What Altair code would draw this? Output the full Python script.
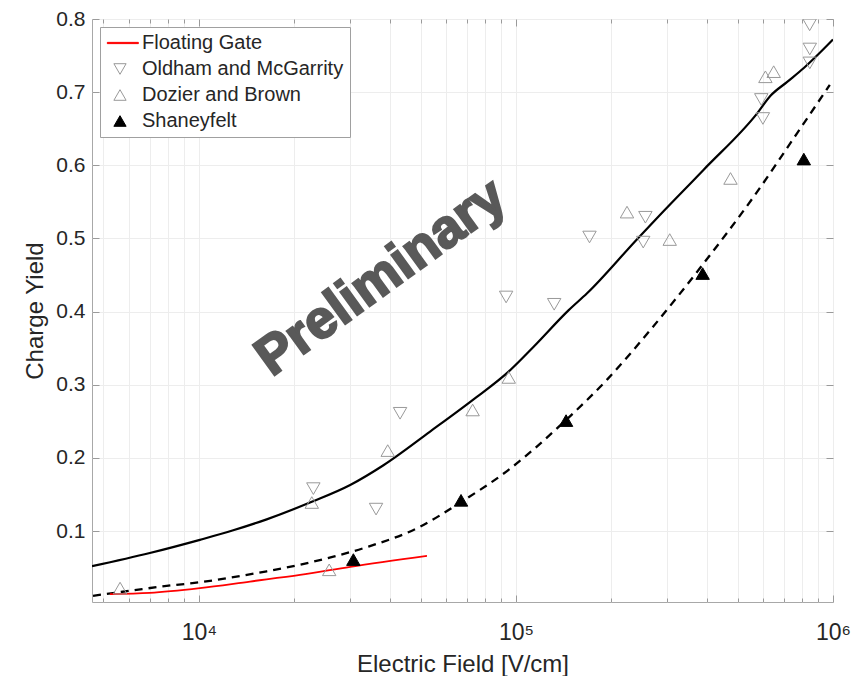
import altair as alt
import pandas as pd

# ---- data ----
solid_x = [4600, 7000, 10070, 12830, 16360, 22700, 30000, 38200, 53600, 73500, 94800,
           113700, 146700, 167600, 241000, 278700, 391000, 576500, 635000, 717000,
           809000, 1000000]
solid_y = [0.052, 0.070, 0.088, 0.101, 0.116, 0.140, 0.163, 0.190, 0.236, 0.280, 0.318,
           0.352, 0.402, 0.425, 0.499, 0.528, 0.594, 0.671, 0.695, 0.714, 0.733, 0.772]

dashed_x = [4634, 6210, 7910, 10070, 12830, 16360, 20840, 26560, 33840, 49900, 66700, 93700,
            143200, 193800, 265500, 391000, 562000, 771000, 977000]
dashed_y = [0.0115, 0.019, 0.025, 0.030, 0.037, 0.045, 0.054, 0.065, 0.078, 0.106, 0.139, 0.182,
            0.251, 0.307, 0.375, 0.466, 0.557, 0.644, 0.710]

red_x = [5240, 7000, 10070, 14490, 20840, 30000, 52400]
red_y = [0.0138, 0.0155, 0.022, 0.031, 0.040, 0.051, 0.066]

oldham_x = [22960, 36200, 43100, 93100, 132000, 170600, 256000, 252000, 594000, 601000,
            844000, 845000, 845000]
oldham_y = [0.158, 0.130, 0.261, 0.420, 0.410, 0.502, 0.529, 0.495, 0.690, 0.664,
            0.792, 0.759, 0.740]

dozier_x = [5640, 22700, 25760, 39400, 73000, 94900, 224000, 305500, 475000, 612000, 650000]
dozier_y = [0.022, 0.139, 0.047, 0.210, 0.2655, 0.310, 0.536, 0.4985, 0.582, 0.721, 0.728]

shaney_x = [30700, 67100, 143900, 388000, 809000]
shaney_y = [0.061, 0.142, 0.251, 0.452, 0.6085]

series_names = ["Floating Gate", "Oldham and McGarrity", "Dozier and Brown", "Shaneyfelt"]

x_major = [10000, 100000, 1000000]
x_minor = [5000, 6000, 7000, 8000, 9000,
           20000, 30000, 40000, 50000, 60000, 70000, 80000, 90000,
           200000, 300000, 400000, 500000, 600000, 700000, 800000, 900000]
y_ticks = [0.1, 0.2, 0.3, 0.4, 0.5, 0.6, 0.7, 0.8]

watermark = pd.DataFrame({"x": [37600], "y": [0.446], "t": ["Preliminary"]})

# ---- tables ----
solid_df = pd.DataFrame({"x": solid_x, "y": solid_y})
dashed_df = pd.DataFrame({"x": dashed_x, "y": dashed_y})
red_df = pd.DataFrame({"x": red_x, "y": red_y, "series": "Floating Gate"})
pts_df = pd.concat([
    pd.DataFrame({"x": oldham_x, "y": oldham_y, "series": "Oldham and McGarrity"}),
    pd.DataFrame({"x": dozier_x, "y": dozier_y, "series": "Dozier and Brown"}),
    pd.DataFrame({"x": shaney_x, "y": shaney_y, "series": "Shaneyfelt"}),
], ignore_index=True)

W, H = 741, 583
FONT = "Liberation Sans"
TXT = "#262626"
TICK = "#9a9a9a"

xscale = alt.Scale(type="log", domain=[4600, 1000000], nice=False)
yscale = alt.Scale(domain=[0.003, 0.8], nice=False, zero=False)


def tick_axis(orient, values, size):
    return alt.Axis(orient=orient, values=values, offset=-(H if orient in ("top", "bottom") else W),
                    labels=False, domain=False, grid=False, ticks=True, tickSize=size,
                    tickColor=TICK, tickWidth=1, title=None)


# main axes (labels + grid) on the solid line layer
x_main = alt.Axis(orient="bottom", values=x_major + x_minor, grid=True, ticks=False, domain=False,
                  labelExpr="datum.value == 10000 ? '10⁴' : datum.value == 100000 ? '10⁵' : datum.value == 1000000 ? '10⁶' : ''",
                  labelFont=FONT, labelFontSize=23, labelColor=TXT, labelPadding=19,
                  title="Electric Field [V/cm]", titleFont=FONT, titleFontSize=24,
                  titleFontWeight="normal", titleColor=TXT, titlePadding=8,
                  gridColor="#ededed", labelFlush=False, labelOverlap=False)
y_main = alt.Axis(orient="left", values=y_ticks, grid=True, ticks=False, domain=False,
                  format=".1f", labelFont=FONT, labelFontSize=21, labelColor=TXT, labelPadding=7,
                  title="Charge Yield", titleFont=FONT, titleFontSize=24,
                  titleFontWeight="normal", titleColor=TXT, titlePadding=8,
                  gridColor="#ededed", labelFlush=False)

solid = alt.Chart(solid_df).mark_line(color="black", strokeWidth=2.2, clip=True,
                                      interpolate="monotone").encode(
    x=alt.X("x:Q", scale=xscale, axis=x_main),
    y=alt.Y("y:Q", scale=yscale, axis=y_main),
)

dashed = alt.Chart(dashed_df).mark_line(color="black", strokeWidth=2.3, strokeDash=[8, 6], clip=True,
                                        interpolate="monotone").encode(
    x=alt.X("x:Q", scale=xscale, axis=tick_axis("top", x_minor, 4)),
    y=alt.Y("y:Q", scale=yscale, axis=tick_axis("right", y_ticks, 7)),
)

stroke_scale = alt.Scale(domain=series_names, range=["#ff0000", "#999999", "#999999", "#000000"])
fill_scale = alt.Scale(domain=series_names, range=["#ff0000", "transparent", "transparent", "#000000"])
shape_scale = alt.Scale(domain=series_names,
                        range=["M-2.07,-0.1L3.0,-0.1L3.0,0.1L-2.07,0.1Z",
                               "triangle-down", "triangle-up", "triangle-up"])

red = alt.Chart(red_df).mark_line(strokeWidth=1.8, clip=True, interpolate="monotone").encode(
    x=alt.X("x:Q", scale=xscale, axis=tick_axis("top", x_major, 7)),
    y=alt.Y("y:Q", scale=yscale, axis=None),
    stroke=alt.Stroke("series:N", scale=stroke_scale, legend=alt.Legend(title=None)),
)

legend = alt.Legend(title=None, orient="top-left", offset=8)
points = alt.Chart(pts_df).mark_point(size=180, strokeWidth=1, opacity=1, clip=True).encode(
    x=alt.X("x:Q", scale=xscale, axis=tick_axis("bottom", x_major, 7)),
    y=alt.Y("y:Q", scale=yscale, axis=tick_axis("left", y_ticks, 7)),
    shape=alt.Shape("series:N", scale=shape_scale, legend=legend),
    stroke=alt.Stroke("series:N", scale=stroke_scale, legend=legend),
    fill=alt.Fill("series:N", scale=fill_scale, legend=legend),
)

text = alt.Chart(watermark).mark_text(angle=324, font=FONT, fontSize=54, fontWeight="bold",
                                      color="#595959", stroke="#595959", strokeWidth=2.2,
                                      align="center", baseline="middle").encode(
    x=alt.X("x:Q", scale=xscale, axis=tick_axis("bottom", x_minor, 4)),
    y=alt.Y("y:Q", scale=yscale, axis=None),
    text="t:N",
)

chart = alt.layer(solid, dashed, red, points, text).resolve_axis(
    x="independent", y="independent"
).properties(
    width=W, height=H,
    autosize=alt.AutoSizeParams(type="none"),
    padding={"left": 92, "top": 19, "right": 20, "bottom": 74},
    background="white",
).configure_view(
    stroke="#a8a8a8", strokeWidth=1
).configure_legend(
    padding=6, symbolOffset=4, rowPadding=6, labelOffset=12,
    labelFont=FONT, labelFontSize=20, labelColor=TXT,
    symbolSize=150, symbolStrokeWidth=1,
    strokeColor="#a0a0a0", fillColor="white", labelLimit=400,
)

chart.save("out.html", embed_options={"renderer": "svg", "actions": False})
